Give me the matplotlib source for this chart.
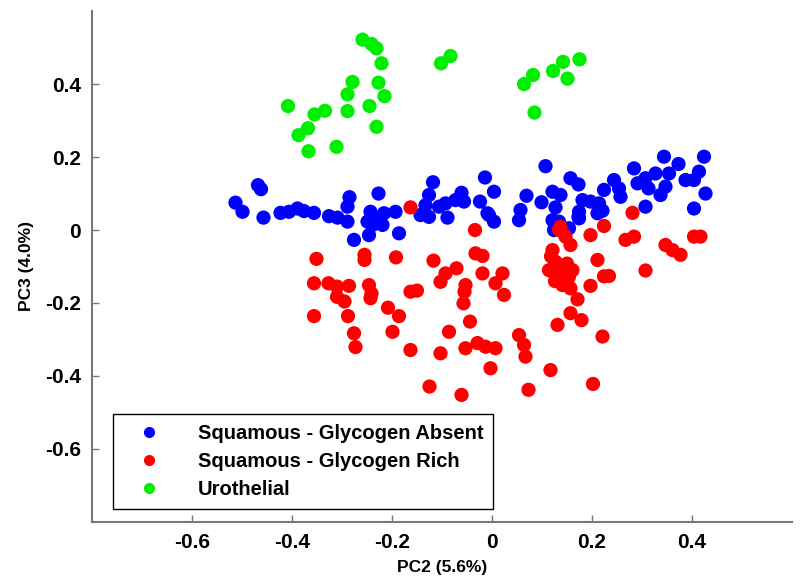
import matplotlib
matplotlib.use("Agg")
import matplotlib.pyplot as plt
from matplotlib.lines import Line2D

# ---------------- data ----------------
labels = ["Squamous - Glycogen Absent", "Squamous - Glycogen Rich", "Urothelial"]
colors = ["#0000ff", "#ff0000", "#00ee00"]

absent_x = [-0.468, -0.462, -0.513, -0.499, -0.457, -0.423, -0.406, -0.389, -0.376, -0.356,
            -0.326, -0.309, -0.289, -0.285, -0.289, -0.276, -0.227, -0.243, -0.233, -0.216,
            -0.249, -0.239, -0.219, -0.193, -0.246, -0.186, -0.229, -0.118, -0.126, -0.133,
            -0.126, -0.143, -0.093, -0.089, -0.106, -0.061, -0.056, -0.073, -0.014, 0.004,
            -0.024, -0.009, 0.004, 0.054, 0.057, 0.069, 0.099, 0.107, 0.121, 0.137,
            0.127, 0.121, 0.157, 0.173, 0.181, 0.197, 0.173, 0.154, 0.211, 0.221,
            0.224, 0.244, 0.254, 0.257, 0.284, 0.291, 0.307, 0.313, 0.327, 0.337,
            0.307, 0.344, 0.354, 0.373, 0.347, 0.387, 0.404, 0.414, 0.424, 0.427,
            0.404, 0.174, 0.174, 0.134, 0.124, -0.006, 0.214]
absent_y = [0.123, 0.112, 0.075, 0.050, 0.034, 0.047, 0.050, 0.059, 0.052, 0.047,
            0.038, 0.034, 0.023, 0.090, 0.064, -0.027, 0.100, 0.050, 0.032, 0.046,
            0.023, 0.014, 0.014, 0.050, -0.014, -0.009, 0.027, 0.131, 0.096, 0.068,
            0.036, 0.041, 0.073, 0.034, 0.064, 0.102, 0.078, 0.082, 0.144, 0.105,
            0.078, 0.046, 0.023, 0.027, 0.055, 0.094, 0.076, 0.175, 0.105, 0.096,
            0.062, 0.027, 0.142, 0.125, 0.082, 0.078, 0.036, 0.005, 0.046, 0.053,
            0.110, 0.137, 0.114, 0.091, 0.169, 0.128, 0.142, 0.114, 0.155, 0.096,
            0.064, 0.201, 0.155, 0.181, 0.119, 0.137, 0.137, 0.160, 0.201, 0.100,
            0.059, 0.050, 0.032, 0.023, 0.000, 0.041, 0.073]

rich_x = [-0.163, 0.281, -0.034, -0.033, -0.019, 0.137, 0.147, 0.157, 0.197, 0.224,
          0.267, 0.284, 0.347, 0.361, 0.377, 0.404, 0.417, 0.121, 0.211, 0.307,
          0.234, 0.224, 0.197, 0.114, 0.127, 0.137, 0.154, 0.141, 0.157, 0.171,
          0.157, 0.179, 0.131, 0.221, 0.021, 0.007, 0.024, 0.054, 0.064, 0.067,
          0.117, 0.073, 0.202, -0.351, -0.255, -0.255, -0.192, -0.117, -0.356, -0.327,
          -0.310, -0.286, -0.246, -0.241, -0.243, -0.310, -0.295, -0.163, -0.150, -0.093,
          -0.071, -0.103, -0.019, -0.053, -0.055, -0.057, -0.356, -0.288, -0.208, -0.186,
          -0.276, -0.273, -0.199, -0.163, -0.103, -0.086, -0.044, -0.053, -0.029, -0.013,
          0.007, -0.003, -0.125, -0.061, 0.134, 0.118, 0.131, 0.146, 0.161, 0.126, 0.150]
rich_y = [0.062, 0.047, 0.000, -0.064, -0.071, 0.009, -0.018, -0.041, -0.014, 0.011,
          -0.027, -0.018, -0.041, -0.055, -0.068, -0.018, -0.018, -0.055, -0.082, -0.111,
          -0.126, -0.127, -0.153, -0.110, -0.087, -0.119, -0.128, -0.151, -0.160, -0.190,
          -0.228, -0.247, -0.260, -0.292, -0.119, -0.146, -0.178, -0.288, -0.315, -0.347,
          -0.384, -0.438, -0.422, -0.079, -0.068, -0.082, -0.075, -0.084, -0.146, -0.146,
          -0.155, -0.153, -0.151, -0.174, -0.187, -0.183, -0.196, -0.169, -0.166, -0.119,
          -0.105, -0.142, -0.119, -0.151, -0.169, -0.201, -0.236, -0.236, -0.213, -0.236,
          -0.283, -0.321, -0.279, -0.329, -0.338, -0.279, -0.251, -0.324, -0.310, -0.320,
          -0.324, -0.379, -0.429, -0.452, 0.000, -0.072, -0.100, -0.133, -0.110, -0.140, -0.092]

uro_x = [-0.408, -0.387, -0.368, -0.367, -0.355, -0.334, -0.311, -0.289, -0.289, -0.279,
         -0.259, -0.241, -0.231, -0.221, -0.227, -0.215, -0.245, -0.231, -0.102, -0.083,
         0.064, 0.082, 0.085, 0.122, 0.142, 0.151, 0.175]
uro_y = [0.340, 0.260, 0.279, 0.216, 0.317, 0.327, 0.228, 0.372, 0.326, 0.406,
         0.522, 0.510, 0.498, 0.457, 0.404, 0.367, 0.340, 0.283, 0.457, 0.477,
         0.400, 0.425, 0.322, 0.436, 0.461, 0.415, 0.468]

xticks = [-0.6, -0.4, -0.2, 0, 0.2, 0.4]
xticklabels = ["-0.6", "-0.4", "-0.2", "0", "0.2", "0.4"]
yticks = [-0.6, -0.4, -0.2, 0, 0.2, 0.4]
yticklabels = ["-0.6", "-0.4", "-0.2", "0", "0.2", "0.4"]

# ---------------- plot ----------------
plt.rcParams['font.family'] = ['Liberation Sans', 'DejaVu Sans']
fig = plt.figure(figsize=(8.0, 5.87), dpi=100)
ax = fig.add_axes([0.115, 0.111, 0.875, 0.870])

series = [(absent_x, absent_y), (rich_x, rich_y), (uro_x, uro_y)]
for (xs, ys), c in zip(series, colors):
    ax.scatter(xs, ys, s=105, color=c, edgecolors='none', zorder=3)

ax.set_xlim(-0.8, 0.6)
ax.set_ylim(-0.8, 0.6)
ax.set_xticks(xticks)
ax.set_xticklabels(xticklabels, fontsize=15, fontweight='bold')
ax.set_yticks(yticks)
ax.set_yticklabels(yticklabels, fontsize=15, fontweight='bold')
ax.tick_params(direction='in', length=5, width=1, color='#777777', pad=8)

for side in ['top', 'right']:
    ax.spines[side].set_visible(False)
for side in ['left', 'bottom']:
    ax.spines[side].set_color('#777777')
    ax.spines[side].set_linewidth(1.5)

ax.set_xlabel("PC2 (5.6%)", fontsize=12.5, fontweight='bold', labelpad=6)
ax.set_ylabel("PC3 (4.0%)", fontsize=12.5, fontweight='bold', labelpad=8)

handles = [Line2D([], [], marker='o', linestyle='none', markersize=8,
                  markerfacecolor=c, markeredgecolor='none') for c in colors]
leg = ax.legend(handles, labels, loc='lower left', bbox_to_anchor=(0.03, 0.025),
                borderaxespad=0, fancybox=False, frameon=True, framealpha=1,
                edgecolor='black', prop={'weight': 'bold', 'size': 14.5},
                handletextpad=1.1, borderpad=0.5, labelspacing=0.45,
                handlelength=2.6)
leg.get_frame().set_linewidth(1.0)

fig.savefig("out.png", dpi=100)
